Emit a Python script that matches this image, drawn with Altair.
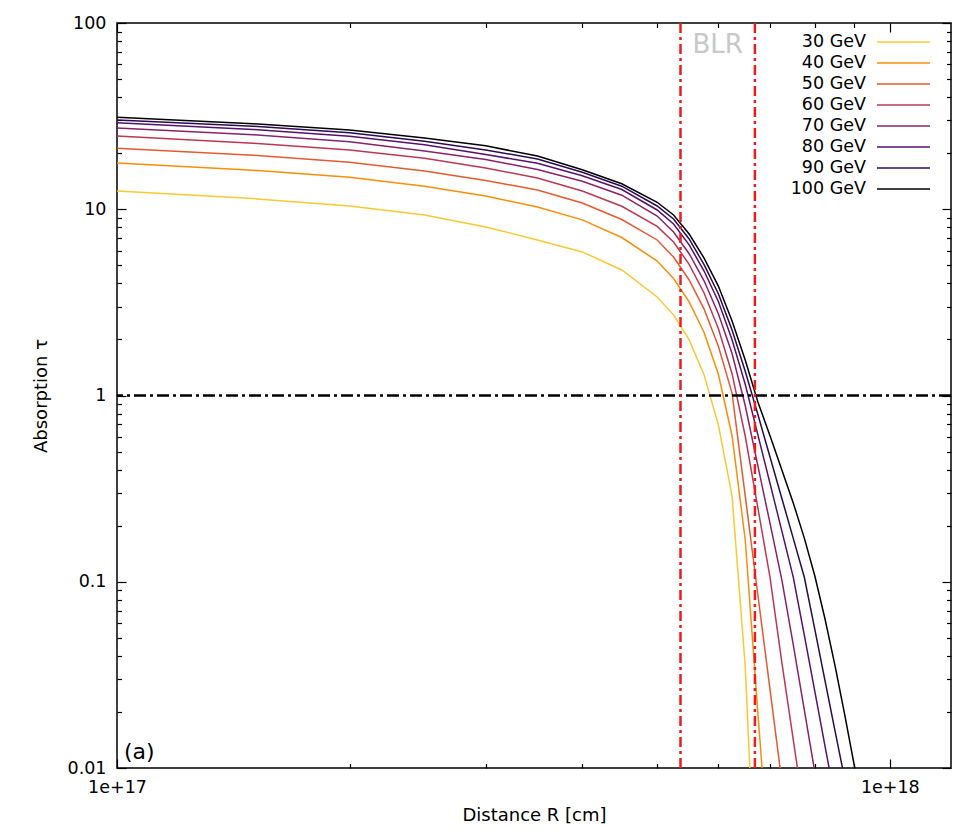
import altair as alt
import pandas as pd

# ---------------- data ----------------
R_E17 = [1.0, 1.5, 2.0, 2.5, 3.0, 3.5, 4.0, 4.5, 5.0, 5.25, 5.5, 5.75, 6.0,
         6.25, 6.5, 6.75, 7.0, 7.25, 7.5, 7.75, 8.0, 8.25, 8.5, 8.75, 9.0, 9.25]

TAU_30 = [12.53, 11.41, 10.41, 9.31, 8.03, 6.84, 5.90, 4.72, 3.38, 2.71, 1.99,
          1.29, 0.695, 0.289, 0.0352, 0.0011]
TAU_40 = [17.71, 16.21, 14.86, 13.28, 11.78, 10.28, 8.77, 7.05, 5.27, 4.25, 3.18,
          2.18, 1.30, 0.608, 0.168, 0.0197, 0.00273]
TAU_50 = [21.24, 19.49, 17.89, 16.05, 14.27, 12.69, 10.80, 8.81, 6.84, 5.54, 4.17,
          2.91, 1.84, 1.03, 0.289, 0.0849, 0.0262, 0.0084]
TAU_60 = [24.74, 22.62, 20.83, 18.77, 16.65, 14.72, 12.53, 10.38, 8.09, 6.67, 5.06,
          3.55, 2.29, 1.31, 0.606, 0.249, 0.105, 0.0368, 0.0142, 0.00566]
TAU_70 = [27.30, 25.14, 23.02, 20.57, 18.50, 16.35, 14.13, 11.90, 9.20, 7.55, 5.77,
          4.13, 2.75, 1.68, 0.884, 0.419, 0.205, 0.102, 0.0459, 0.0206, 0.00945]
TAU_80 = [29.15, 26.84, 24.67, 22.22, 19.68, 17.65, 15.14, 12.76, 9.91, 8.33, 6.44,
          4.66, 3.20, 1.99, 1.15, 0.615, 0.336, 0.187, 0.106, 0.0518, 0.0256,
          0.0129, 0.00668]
TAU_90 = [30.14, 27.92, 25.73, 23.20, 20.81, 18.61, 15.81, 13.30, 10.41, 8.87, 6.93,
          5.04, 3.52, 2.25, 1.35, 0.790, 0.466, 0.280, 0.171, 0.106, 0.0551,
          0.0290, 0.0156, 0.00857]
TAU_100 = [31.2, 28.8, 26.6, 24.1, 21.9, 19.3, 16.3, 13.7, 10.9, 9.31, 7.36,
           5.47, 3.87, 2.51, 1.55, 0.923, 0.606, 0.398, 0.265, 0.172, 0.107,
           0.0623, 0.0349, 0.0190, 0.0102, 0.0058]

ENERGIES = ["30 GeV", "40 GeV", "50 GeV", "60 GeV", "70 GeV", "80 GeV",
            "90 GeV", "100 GeV"]
COLORS = ["#f8c932", "#f98e09", "#e45a31", "#bc3754", "#89226a", "#57106e",
          "#280b53", "#000004"]

BLR_EDGES = [5.36e17, 6.69e17]     # inner / outer BLR radius [cm]
THRESHOLD = [1.0]                  # tau = 1
BLR_TEXT = ["BLR"]
PANEL_TEXT = ["(a)"]

X_DOMAIN = [1e17, 1.2e18]
Y_DOMAIN = [0.01, 100]
X_TICKS = [k * 1e17 for k in range(1, 10)] + [1e18]
Y_TICKS = [m * 10.0 ** e for e in range(-2, 2) for m in range(1, 10)] + [100.0]

# ---------------- tables ----------------
rows = []
for label, taus in zip(ENERGIES, [TAU_30, TAU_40, TAU_50, TAU_60, TAU_70,
                                  TAU_80, TAU_90, TAU_100]):
    for r, t in zip(R_E17, taus):
        rows.append({"R": r * 1e17, "tau": t, "E": label})
df = pd.DataFrame(rows)

df_h = pd.DataFrame({"tau": THRESHOLD})
df_v = pd.DataFrame({"R": BLR_EDGES})
df_blr = pd.DataFrame({"R": [(BLR_EDGES[0] * BLR_EDGES[1]) ** 0.5],
                       "tau": [76.0], "t": BLR_TEXT})
df_a = pd.DataFrame({"R": [1.021e17], "tau": [0.0122], "t": PANEL_TEXT})

FONT = "DejaVu Sans"
IS_MAJOR = "abs(log(datum.value)/LN10 - round(log(datum.value)/LN10)) < 1e-6"
TICK_SIZE = {"expr": IS_MAJOR + " ? -9 : -4.5"}

xscale = alt.Scale(type="log", domain=X_DOMAIN, nice=False)
yscale = alt.Scale(type="log", domain=Y_DOMAIN, nice=False)

x_bottom = alt.Axis(values=X_TICKS, tickSize=TICK_SIZE,
                    labelExpr=IS_MAJOR + " ? '1e+' + round(log(datum.value)/LN10) : ''",
                    labelPadding=19, labelFlush=False, labelOverlap=False,
                    title="Distance R [cm]", titlePadding=6, grid=False,
                    domain=False)
y_left = alt.Axis(values=Y_TICKS, tickSize=TICK_SIZE,
                  labelExpr=IS_MAJOR + " ? format(datum.value, '~g') : ''",
                  labelPadding=20, labelOverlap=False, labelFlush=False,
                  title="Absorption τ", titlePadding=17, grid=False, domain=False)
x_top = alt.Axis(orient="top", values=X_TICKS, tickSize=TICK_SIZE, labels=False,
                 title=None, grid=False, domain=False)
y_right = alt.Axis(orient="right", values=Y_TICKS, tickSize=TICK_SIZE, labels=False,
                   title=None, grid=False, domain=False)

legend = alt.Legend(orient="none", legendX=776, legendY=8.5, title=None,
                    symbolType="M-2.72,0H2.72", symbolSize=380,
                    symbolStrokeWidth=1.5, labelAlign="right",
                    labelOffset={"expr": "-48"},
                    labelFontSize=17.5, labelFont=FONT, labelColor="black",
                    rowPadding=2, padding=0, labelLimit=0)

lines = alt.Chart(df).mark_line(clip=True, strokeWidth=1.5).encode(
    x=alt.X("R:Q", scale=xscale, axis=x_bottom),
    y=alt.Y("tau:Q", scale=yscale, axis=y_left),
    color=alt.Color("E:N", scale=alt.Scale(domain=ENERGIES, range=COLORS),
                    legend=legend),
)

mirror = alt.Chart(df).mark_point(opacity=0, clip=True).encode(
    x=alt.X("R:Q", scale=xscale, axis=x_top),
    y=alt.Y("tau:Q", scale=yscale, axis=y_right),
)

hline = alt.Chart(df_h).mark_rule(color="black", strokeWidth=2.5,
                                  strokeDash=[12, 4, 3, 4]).encode(
    y=alt.Y("tau:Q", scale=yscale, axis=None)
)

vlines = alt.Chart(df_v).mark_rule(color="#ee1c1c", strokeWidth=2.5,
                                   strokeDash=[10, 4, 3, 4]).encode(
    x=alt.X("R:Q", scale=xscale, axis=None)
)

blr = alt.Chart(df_blr).mark_text(font=FONT, fontSize=26, color="#c8c8c8",
                                  align="center", baseline="middle").encode(
    x=alt.X("R:Q", scale=xscale, axis=None),
    y=alt.Y("tau:Q", scale=yscale, axis=None),
    text="t:N",
)

panel = alt.Chart(df_a).mark_text(font=FONT, fontSize=22, color="black",
                                  align="left", baseline="middle").encode(
    x=alt.X("R:Q", scale=xscale, axis=None),
    y=alt.Y("tau:Q", scale=yscale, axis=None),
    text="t:N",
)

chart = alt.layer(lines, mirror, hline, vlines, blr, panel).resolve_axis(
    x="independent", y="independent"
).properties(
    width=834, height=745,
    autosize=alt.AutoSizeParams(type="none"),
    padding={"left": 109, "top": 15, "right": 11, "bottom": 58},
).configure(font=FONT).configure_view(
    stroke="black", strokeWidth=1.5
).configure_axis(
    labelFont=FONT, titleFont=FONT, labelFontSize=17.5, titleFontSize=18,
    titleFontWeight="normal", labelColor="black", titleColor="black",
    tickColor="black", tickWidth=1.2
)

chart.save("out.html", embed_options={"renderer": "svg", "actions": False})
